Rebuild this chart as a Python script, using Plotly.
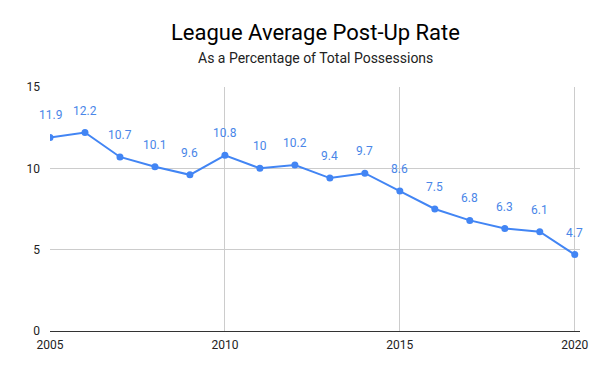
import plotly.graph_objects as go

years = list(range(2005, 2021))
rates = [11.9, 12.2, 10.7, 10.1, 9.6, 10.8, 10, 10.2, 9.4, 9.7, 8.6, 7.5, 6.8, 6.3, 6.1, 4.7]
rate_labels = ["11.9", "12.2", "10.7", "10.1", "9.6", "10.8", "10", "10.2", "9.4", "9.7", "8.6", "7.5", "6.8", "6.3", "6.1", "4.7"]
x_ticks = [2005, 2010, 2015, 2020]
y_ticks = [0, 5, 10, 15]

line_color = "#4285f4"
label_color = "#4a86e8"

fig = go.Figure()
fig.add_trace(go.Scatter(
    x=years, y=rates, mode="lines+markers",
    line=dict(color=line_color, width=2),
    marker=dict(color=line_color, size=7),
    hoverinfo="x+y", showlegend=False,
))

for xv, yv, t in zip(years, rates, rate_labels):
    fig.add_annotation(x=xv, y=yv, text=t, showarrow=False, yshift=22,
                       font=dict(family="Roboto", size=12, color=label_color))

fig.add_annotation(text="League Average Post-Up Rate", xref="paper", yref="paper",
                   x=0.5, y=1, yshift=55, showarrow=False, xanchor="center", yanchor="middle",
                   font=dict(family="Roboto", size=22, color="#000000"))
fig.add_annotation(text="As a Percentage of Total Possessions", xref="paper", yref="paper",
                   x=0.5, y=1, yshift=29, showarrow=False, xanchor="center", yanchor="middle",
                   font=dict(family="Roboto", size=14, color="#222222"))

# page body has an 8px margin; figure is sized to fit the 600x371 window
fig.update_layout(
    width=592, height=363,
    margin=dict(l=42, r=18, t=79, b=40),
    plot_bgcolor="white", paper_bgcolor="white",
    font=dict(family="Roboto", size=12, color="#222222"),
    xaxis=dict(range=[2005, 2020.15], tickvals=x_ticks, ticktext=[str(v) for v in x_ticks],
               showgrid=True, gridcolor="#cccccc", gridwidth=1, zeroline=False,
               showline=True, linecolor="#333333", linewidth=1, ticks="",
               ticklabelstandoff=3,
               tickfont=dict(family="Roboto", size=12, color="#222222")),
    yaxis=dict(range=[0, 15], tickvals=y_ticks, showgrid=True, gridcolor="#cccccc",
               gridwidth=1, zeroline=False, showline=False, ticks="", ticklen=0,
               ticklabelstandoff=9,
               tickfont=dict(family="Roboto", size=12, color="#222222")),
)

fig.write_html("out.html")
